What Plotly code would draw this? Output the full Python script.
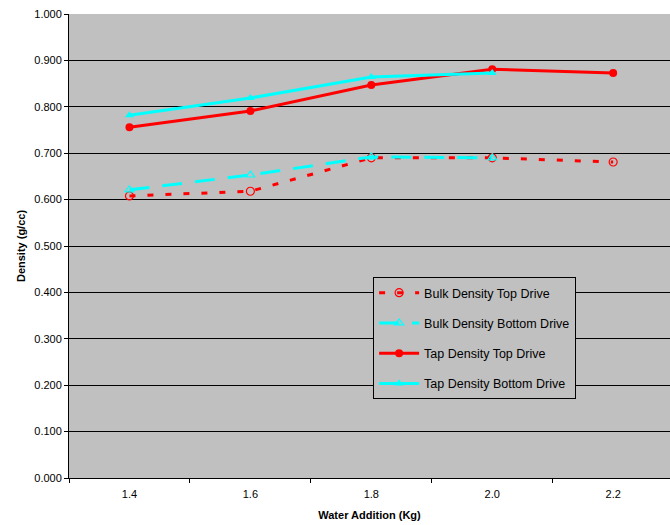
import plotly.graph_objects as go

categories = ["1.4", "1.6", "1.8", "2.0", "2.2"]
bulk_top = [0.608, 0.618, 0.690, 0.690, 0.681]
bulk_bottom = [0.621, 0.653, 0.692, 0.690]
tap_top = [0.756, 0.791, 0.847, 0.881, 0.873]
tap_bottom = [0.782, 0.819, 0.864, 0.873]
y_ticks = [round(i * 0.1, 1) for i in range(11)]

RED = "#ff0000"
CYAN = "#00ffff"

fig = go.Figure()
fig.add_trace(go.Scatter(
    x=categories, y=bulk_top, name="Bulk Density Top Drive", mode="lines+markers",
    line=dict(color=RED, width=3, dash="6px,12px"),
    marker=dict(symbol="circle-open", size=8, color=RED, line=dict(width=1.2)),
    legendgroup="a"))
fig.add_trace(go.Scatter(
    x=categories[:len(bulk_bottom)], y=bulk_bottom, name="Bulk Density Bottom Drive",
    mode="lines+markers",
    line=dict(color=CYAN, width=3, dash="20px,13px"),
    marker=dict(symbol="triangle-up-open", size=8, color=CYAN, line=dict(width=1.2)),
    legendgroup="b"))
fig.add_trace(go.Scatter(
    x=categories, y=tap_top, name="Tap Density Top Drive", mode="lines+markers",
    line=dict(color=RED, width=3),
    marker=dict(symbol="circle", size=8, color=RED),
    legendgroup="c"))
fig.add_trace(go.Scatter(
    x=categories[:len(tap_bottom)], y=tap_bottom, name="Tap Density Bottom Drive",
    mode="lines+markers",
    line=dict(color=CYAN, width=3),
    marker=dict(symbol="triangle-up", size=8, color=CYAN),
    legendgroup="d"))

fig.update_layout(
    width=670, height=525,
    margin=dict(l=69, r=0, t=14, b=47),
    paper_bgcolor="white", plot_bgcolor="#c0c0c0",
    font=dict(family="Liberation Sans, Arial", size=11, color="black"),
    showlegend=True,
    legend=dict(
        x=0.506, y=0.433, xanchor="left", yanchor="top",
        bgcolor="#c0c0c0", bordercolor="black", borderwidth=1,
        font=dict(size=12.5), tracegroupgap=11, traceorder="grouped",
        itemwidth=40,
    ),
)
fig.update_xaxes(
    type="category", range=[-0.5, 4.47],
    showline=True, linecolor="black", linewidth=1,
    ticks="outside", tickson="boundaries", ticklen=4, tickcolor="black",
    ticklabelstandoff=6,
    showgrid=False,
    title=dict(text="<b>Water Addition (Kg)</b>", font=dict(size=11), standoff=12),
)
fig.update_yaxes(
    range=[0, 1.0], tickvals=y_ticks, tickformat=".3f",
    showline=True, linecolor="black", linewidth=1,
    ticks="outside", ticklen=4, tickcolor="black",
    showgrid=True, gridcolor="black", gridwidth=1,
    zeroline=False,
    title=dict(text="<b>Density (g/cc)</b>", font=dict(size=11), standoff=6),
)

fig.write_html("out.html")
